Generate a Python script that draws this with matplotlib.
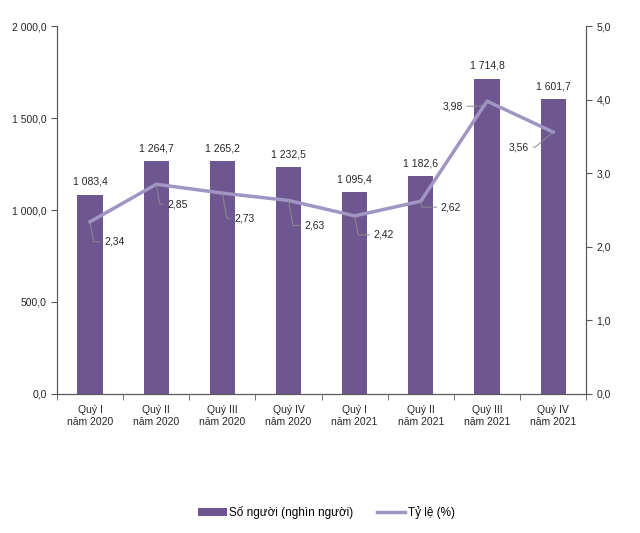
import matplotlib
matplotlib.use("Agg")
import matplotlib.pyplot as plt
import numpy as np

plt.rcParams['font.family'] = ['Liberation Sans', 'DejaVu Sans']

quarters = ["Quý I\nnăm 2020", "Quý II\nnăm 2020", "Quý III\nnăm 2020", "Quý IV\nnăm 2020",
            "Quý I\nnăm 2021", "Quý II\nnăm 2021", "Quý III\nnăm 2021", "Quý IV\nnăm 2021"]
so_nguoi = [1083.4, 1264.7, 1265.2, 1232.5, 1095.4, 1182.6, 1714.8, 1601.7]
ty_le = [2.34, 2.85, 2.73, 2.63, 2.42, 2.62, 3.98, 3.56]
# offsets (pixels) for the rate labels
lbl_dx = [14, 11, 12, 16, 19, 20, -24, -24]
lbl_dy = [-20, -20, -25, -25, -19, -6, -5, -15]

bar_color = "#6e5690"
line_color = "#a195c4"
axis_color = "#595959"
text_color = "#262626"


def fmt(v, nd):
    s = f"{v:,.{nd}f}"
    return s.replace(",", " ").replace(".", ",")


fig = plt.figure(figsize=(6.4, 5.33), dpi=100)
ax = fig.add_axes([0.089, 0.261, 0.827, 0.690])
ax2 = ax.twinx()

x = np.arange(len(quarters))
ax.bar(x, so_nguoi, width=0.38, color=bar_color, label="Số người (nghìn người)", zorder=2)
for xi, v in zip(x, so_nguoi):
    ax.annotate(fmt(v, 1), (xi, v), xytext=(0, 8), textcoords="offset pixels",
                ha="center", va="bottom", fontsize=7.5, color=text_color)

ax2.plot(x, ty_le, color=line_color, lw=2.5, label="Tỷ lệ (%)", zorder=3)
for xi, v, dx, dy in zip(x, ty_le, lbl_dx, lbl_dy):
    ang = -80 if dx > 0 else 40
    ax2.annotate(fmt(v, 2), (xi, v), xytext=(dx, dy), textcoords="offset pixels",
                 ha="left" if dx > 0 else "right", va="center", fontsize=7.5, color=text_color,
                 arrowprops=dict(arrowstyle="-", color="#8c8c8c", lw=0.7,
                                 connectionstyle=f"angle,angleA=0,angleB={ang},rad=0",
                                 shrinkA=1, shrinkB=0))

ax.set_xlim(-0.5, len(quarters) - 0.5)
ax.set_ylim(0, 2000)
ax2.set_ylim(0, 5)
ax.set_yticks(np.arange(0, 2001, 500))
ax.set_yticklabels([fmt(v, 1) for v in np.arange(0, 2001, 500)])
ax2.set_yticks(np.arange(0, 5.1, 1))
ax2.set_yticklabels([fmt(v, 1) for v in np.arange(0, 5.1, 1)])

ax.set_xticks(x)
ax.set_xticklabels(quarters, fontsize=7.5, color=text_color)
ax.set_xticks(np.arange(-0.5, len(quarters)), minor=True)
ax.tick_params(axis="x", which="major", length=0, pad=8)
ax.tick_params(axis="x", which="minor", length=4, color=axis_color)
ax.tick_params(axis="y", labelsize=7.5, labelcolor=text_color, color=axis_color, length=4)
ax2.tick_params(axis="y", labelsize=7.5, labelcolor=text_color, color=axis_color, length=4)

for a in (ax, ax2):
    a.spines["top"].set_visible(False)
    for s in ("left", "right", "bottom"):
        a.spines[s].set_color(axis_color)

h1, l1 = ax.get_legend_handles_labels()
h2, l2 = ax2.get_legend_handles_labels()
fig.legend(h1 + h2, l1 + l2, loc="center", bbox_to_anchor=(0.51, 0.038), ncol=2,
           frameon=False, fontsize=8.5, handlelength=2.4, handleheight=0.6,
           handletextpad=0.2, columnspacing=2.0)

fig.savefig("out.png", dpi=100)
